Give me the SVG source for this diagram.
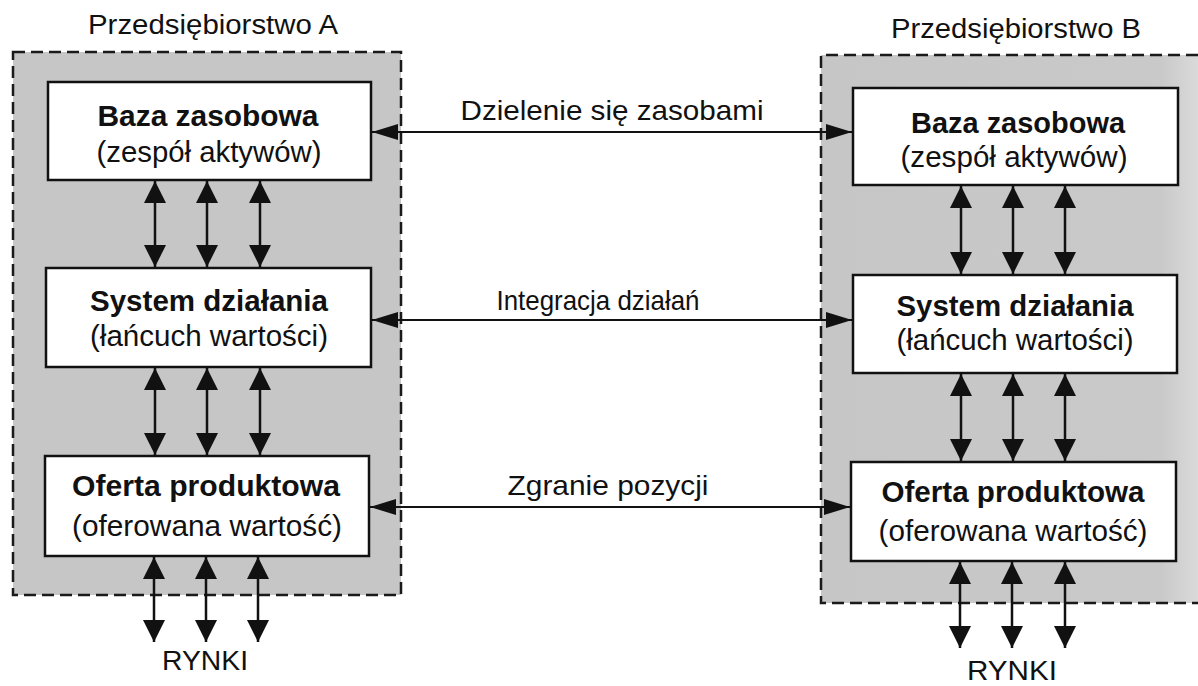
<svg xmlns="http://www.w3.org/2000/svg" width="1198" height="686" viewBox="0 0 1198 686">
  <style>
    text { font-family: "Liberation Sans", Arial, sans-serif; fill: #111; }
    .title { font-size: 27px; }
    .head { font-size: 29px; font-weight: bold; }
    .sub { font-size: 29px; }
    .lbl { font-size: 28px; }
    .mkt { font-size: 27px; }
    .box { fill: #fff; stroke: #111; stroke-width: 2.5; }
    .frame { stroke: #1a1a1a; stroke-width: 2.5; stroke-dasharray: 12 6; fill: none; }
    .v { stroke: #111; stroke-width: 2.5; fill: none; marker-start: url(#hv); marker-end: url(#hv); }
    .h { stroke: #111; stroke-width: 1.8; fill: none; marker-start: url(#hh); marker-end: url(#hh); }
  </style>
  <defs>
    <marker id="hv" viewBox="0 0 22 22" refX="22" refY="11" markerWidth="22" markerHeight="22" markerUnits="userSpaceOnUse" orient="auto-start-reverse">
      <path d="M0,0 L22,11 L0,22 Z" fill="#111"/>
    </marker>
    <marker id="hh" viewBox="0 0 26 16" refX="26" refY="8" markerWidth="26" markerHeight="16" markerUnits="userSpaceOnUse" orient="auto-start-reverse">
      <path d="M0,0 L26,8 L0,16 Z" fill="#111"/>
    </marker>
    <linearGradient id="fadeB" x1="821" y1="0" x2="1198" y2="0" gradientUnits="userSpaceOnUse">
      <stop offset="0" stop-color="#c6c6c6"/>
      <stop offset="0.9" stop-color="#c9c9c9"/>
      <stop offset="1" stop-color="#dadada"/>
    </linearGradient>
  </defs>

  <rect width="1198" height="686" fill="#fff"/>

  <!-- Company A frame -->
  <g id="companyA">
    <rect x="13" y="52" width="388" height="543" fill="#c6c6c6"/>
    <rect class="frame" x="13" y="52" width="388" height="543"/>
    <text class="title" x="213" y="34" text-anchor="middle" textLength="250" lengthAdjust="spacingAndGlyphs">Przedsiębiorstwo A</text>
  </g>

  <!-- Company B frame (open on the right) -->
  <g id="companyB">
    <rect x="821" y="55" width="377" height="548" fill="url(#fadeB)"/>
    <path class="frame" d="M1198,55 L821,55 L821,603 L1198,603"/>
    <text class="title" x="1016" y="38" text-anchor="middle" textLength="250" lengthAdjust="spacingAndGlyphs">Przedsiębiorstwo B</text>
  </g>

  <g id="A-resources">
    <rect class="box" x="48" y="82" width="323" height="98"/>
    <text class="head" x="208" y="126" text-anchor="middle" textLength="221" lengthAdjust="spacingAndGlyphs">Baza zasobowa</text>
    <text class="sub" x="209" y="162" text-anchor="middle" textLength="225" lengthAdjust="spacingAndGlyphs">(zespół aktywów)</text>
  </g>
  <g id="A-operations">
    <rect class="box" x="46" y="268" width="325" height="99"/>
    <text class="head" x="209" y="311" text-anchor="middle" textLength="238" lengthAdjust="spacingAndGlyphs">System działania</text>
    <text class="sub" x="209" y="346" text-anchor="middle" textLength="238" lengthAdjust="spacingAndGlyphs">(łańcuch wartości)</text>
  </g>
  <g id="A-offer">
    <rect class="box" x="45" y="456" width="324" height="100"/>
    <text class="head" x="206" y="496" text-anchor="middle" textLength="268" lengthAdjust="spacingAndGlyphs">Oferta produktowa</text>
    <text class="sub" x="207" y="536" text-anchor="middle" textLength="270" lengthAdjust="spacingAndGlyphs">(oferowana wartość)</text>
  </g>

  <g id="B-resources">
    <rect class="box" x="853" y="88" width="325" height="97"/>
    <text class="head" x="1018" y="133" text-anchor="middle" textLength="214" lengthAdjust="spacingAndGlyphs">Baza zasobowa</text>
    <text class="sub" x="1014" y="167" text-anchor="middle" textLength="227" lengthAdjust="spacingAndGlyphs">(zespół aktywów)</text>
  </g>
  <g id="B-operations">
    <rect class="box" x="853" y="275" width="324" height="98"/>
    <text class="head" x="1015" y="316" text-anchor="middle" textLength="237" lengthAdjust="spacingAndGlyphs">System działania</text>
    <text class="sub" x="1015" y="350" text-anchor="middle" textLength="237" lengthAdjust="spacingAndGlyphs">(łańcuch wartości)</text>
  </g>
  <g id="B-offer">
    <rect class="box" x="851" y="462" width="325" height="99"/>
    <text class="head" x="1013" y="502" text-anchor="middle" textLength="263" lengthAdjust="spacingAndGlyphs">Oferta produktowa</text>
    <text class="sub" x="1013" y="541" text-anchor="middle" textLength="269" lengthAdjust="spacingAndGlyphs">(oferowana wartość)</text>
  </g>

  <g id="markets">
    <text class="mkt" x="205" y="670" text-anchor="middle" textLength="86" lengthAdjust="spacingAndGlyphs">RYNKI</text>
    <text class="mkt" x="1012" y="680" text-anchor="middle" textLength="90" lengthAdjust="spacingAndGlyphs">RYNKI</text>
  </g>

  <g id="connectors">
    <!-- between-company links -->
    <line class="h" x1="372" y1="132" x2="852" y2="132"/>
    <line class="h" x1="372" y1="320" x2="852" y2="320"/>
    <line class="h" x1="370" y1="507" x2="850" y2="507"/>
    <text class="lbl" x="612" y="120" text-anchor="middle" textLength="303" lengthAdjust="spacingAndGlyphs">Dzielenie się zasobami</text>
    <text class="lbl" x="598" y="310" text-anchor="middle" textLength="203" lengthAdjust="spacingAndGlyphs">Integracja działań</text>
    <text class="lbl" x="608" y="495" text-anchor="middle" textLength="201" lengthAdjust="spacingAndGlyphs">Zgranie pozycji</text>

    <!-- company A internal links -->
    <line class="v" x1="155" y1="181" x2="155" y2="267"/>
    <line class="v" x1="207" y1="181" x2="207" y2="267"/>
    <line class="v" x1="260" y1="181" x2="260" y2="267"/>
    <line class="v" x1="155" y1="368" x2="155" y2="455"/>
    <line class="v" x1="207" y1="368" x2="207" y2="455"/>
    <line class="v" x1="260" y1="368" x2="260" y2="455"/>
    <line class="v" x1="154" y1="557" x2="154" y2="642"/>
    <line class="v" x1="206" y1="557" x2="206" y2="642"/>
    <line class="v" x1="258" y1="557" x2="258" y2="642"/>

    <!-- company B internal links -->
    <line class="v" x1="961" y1="186" x2="961" y2="274"/>
    <line class="v" x1="1013" y1="186" x2="1013" y2="274"/>
    <line class="v" x1="1065" y1="186" x2="1065" y2="274"/>
    <line class="v" x1="961" y1="374" x2="961" y2="461"/>
    <line class="v" x1="1013" y1="374" x2="1013" y2="461"/>
    <line class="v" x1="1065" y1="374" x2="1065" y2="461"/>
    <line class="v" x1="960" y1="562" x2="960" y2="648"/>
    <line class="v" x1="1012" y1="562" x2="1012" y2="648"/>
    <line class="v" x1="1065" y1="562" x2="1065" y2="648"/>
  </g>
</svg>
